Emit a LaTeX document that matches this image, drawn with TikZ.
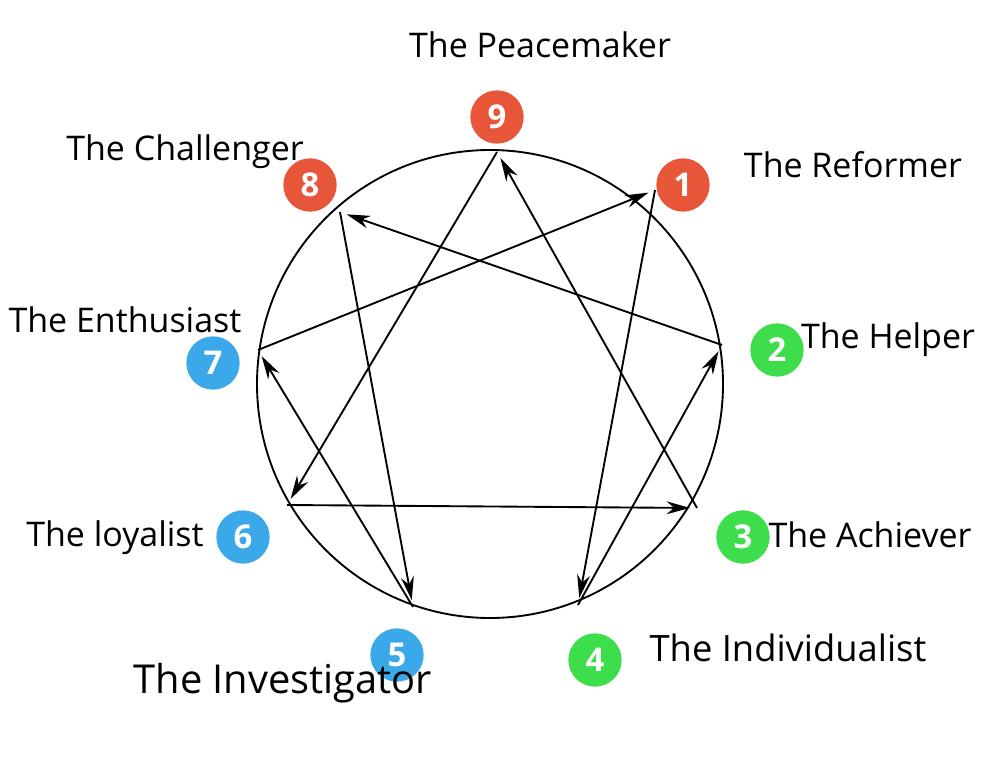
\documentclass[tikz,border=0pt]{standalone}
\usepackage{fontspec}
\setmainfont{Open Sans}
\usetikzlibrary{arrows.meta}
\definecolor{cr}{HTML}{E8563A}
\definecolor{cg}{HTML}{3EDD4B}
\definecolor{cb}{HTML}{3BA9E9}
\begin{document}
\begin{tikzpicture}[x=0.03cm,y=-0.03cm,
  num/.style={circle,minimum size=1.6cm,inner sep=0pt,text=white,font=\fontsize{28}{28}\selectfont\rmfamily\bfseries},
  lab/.style={font=\fontsize{29}{30}\selectfont},
  arr/.style={line width=1.6pt,-{Stealth[length=20pt,width=11pt]},shorten >=6pt}]
\useasboundingbox (0,0) rectangle (1000,766);
\draw[line width=1.6pt] (490,384) ellipse (233 and 234);
\coordinate (p9) at (497,152);
\coordinate (p1) at (655,190);
\coordinate (p2) at (722,345);
\coordinate (p3) at (697,508);
\coordinate (p4) at (578,605);
\coordinate (p5) at (413,607);
\coordinate (p6) at (287,505);
\coordinate (p7) at (258,350);
\coordinate (p8) at (340,212);
\draw[arr] (p1)--(p4); \draw[arr] (p4)--(p2); \draw[arr] (p2)--(p8);
\draw[arr] (p8)--(p5); \draw[arr] (p5)--(p7); \draw[arr] (p7)--(p1);
\draw[arr] (p9)--(p6); \draw[arr] (p6)--(p3); \draw[arr] (p3)--(p9);
\node[num,fill=cr] (n9) at (497,117) {9};
\node[num,fill=cr] (n1) at (683,185) {1};
\node[num,fill=cr] (n8) at (310,185) {8};
\node[num,fill=cg] (n2) at (777,350) {2};
\node[num,fill=cb] (n7) at (213,363) {7};
\node[num,fill=cb] (n6) at (243,537) {6};
\node[num,fill=cg] (n3) at (743,537) {3};
\node[num,fill=cb] (n5) at (397,655) {5};
\node[num,fill=cg] (n4) at (595,660) {4};
\node[lab] (l9) at (540,45) {The Peacemaker};
\node[lab] (l1) at (853,165) {The Reformer};
\node[lab] (l8) at (185,152) {The Challenger};
\node[lab] (l2) at (888,340) {The Helper};
\node[lab] (l7) at (125,320) {The Enthusiast};
\node[lab] (l6) at (115,538) {The loyalist};
\node[lab] (l3) at (870,535) {The Achiever};
\node[lab,font=\fontsize{34}{36}\selectfont] (l5) at (283,683) {The Investigator};
\node[lab,font=\fontsize{31}{32}\selectfont] (l4) at (788,648) {The Individualist};
\end{tikzpicture}
\end{document}
